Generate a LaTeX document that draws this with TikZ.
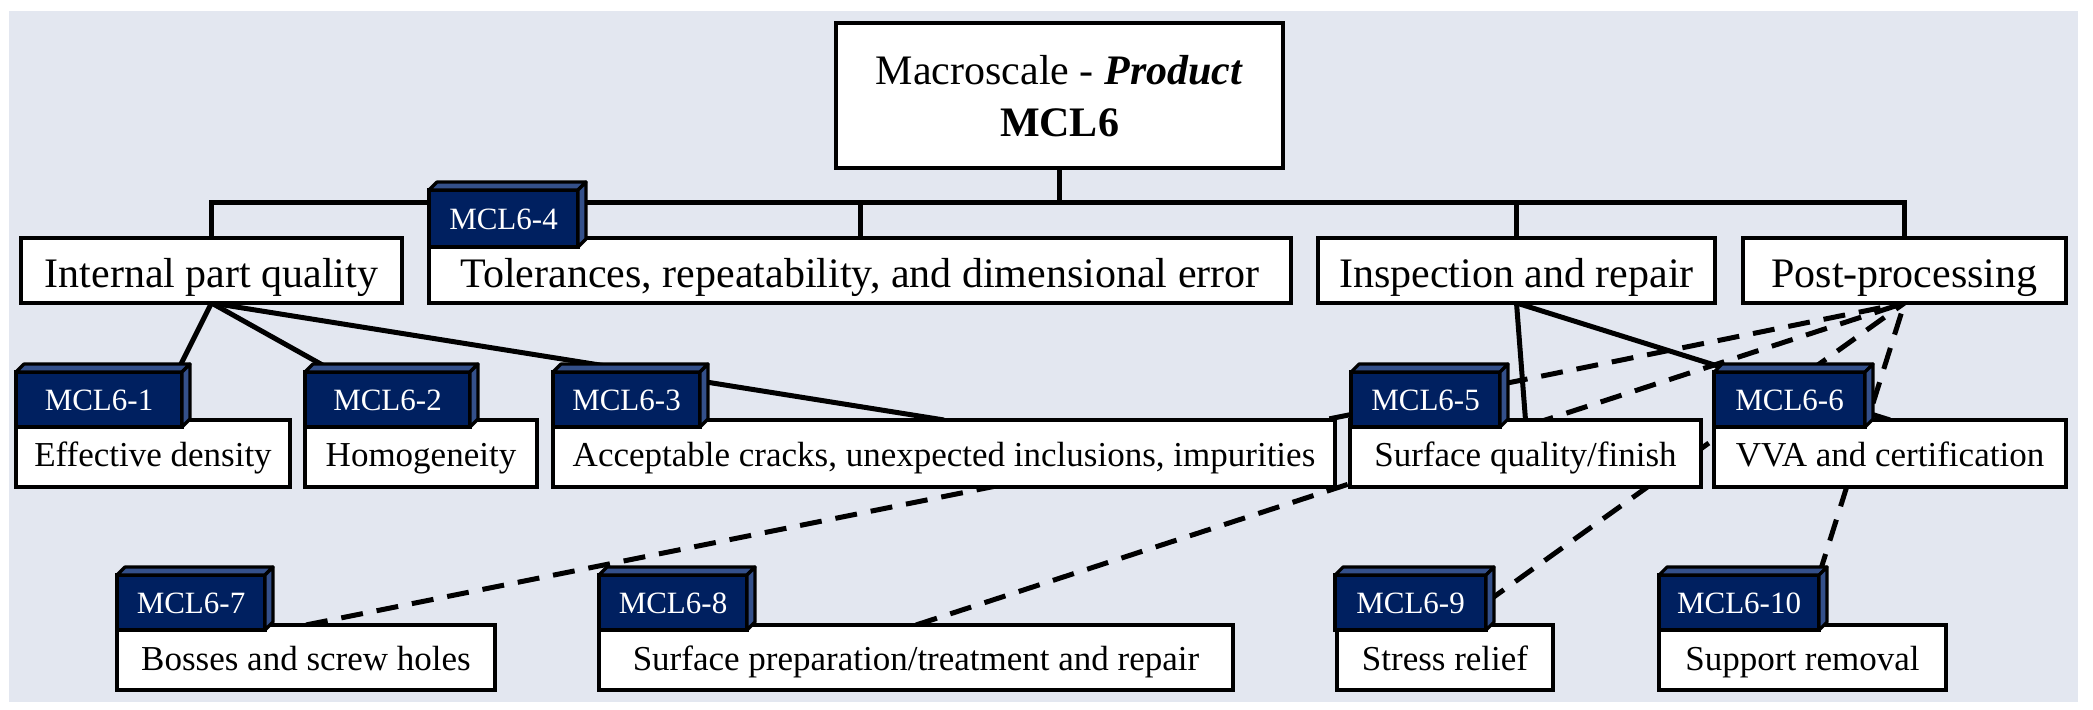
\documentclass[tikz,border=0pt]{standalone}
\usepackage{fontspec}
\setmainfont{Liberation Serif}
\usetikzlibrary{fit,calc}
\pgfdeclarelayer{panel}
\pgfdeclarelayer{links}
\pgfsetlayers{panel,links,main}
\definecolor{panelgray}{RGB}{227,231,240}
\definecolor{tagnavy}{RGB}{0,32,96}
\definecolor{facecol}{RGB}{52,80,138}

\tikzset{
  box/.style={draw=black, fill=white, line width=2.2pt, inner sep=0pt, outer sep=0pt},
  tagbox/.style={draw=black, fill=tagnavy, line width=1.6pt, inner sep=0pt, outer sep=0pt},
  tagside/.style={draw=black, fill=facecol, line width=1.6pt, line join=round},
  % text set on its baseline
  headtext/.style={anchor=base, inner sep=0pt, font=\fontsize{21}{25}\selectfont},
  cattext/.style={anchor=base, inner sep=0pt, font=\fontsize{21}{25}\selectfont},
  itemtext/.style={anchor=base, inner sep=0pt, font=\fontsize{17.5}{21}\selectfont},
  tagtext/.style={anchor=base, inner sep=0pt, text=white, font=\fontsize{15.5}{18}\selectfont},
  link/.style={line width=2.5pt},
  dlink/.style={line width=2.5pt, dash pattern=on 11pt off 7pt},
}

% top and right faces that give a tag its raised look
\newcommand\drawtagfaces[1]{%
  \draw[tagside] (#1.north west) -- ++(8,-8) -- ($(#1.north east)+(8,-8)$) -- (#1.north east) -- cycle;
  \draw[tagside] (#1.north east) -- ++(8,-8) -- ($(#1.south east)+(8,-8)$) -- (#1.south east) -- cycle;
}

\begin{document}
\begin{tikzpicture}[x=0.5pt, y=-0.5pt]
\useasboundingbox (0,0) rectangle (2093,710);
\begin{pgfonlayer}{panel}
  \fill[white] (0,0) rectangle (2093,710);
  \fill[panelgray] (9,11) rectangle (2078,702);
\end{pgfonlayer}

% root
\node[box, fit={(836,23)(1283,168)}] (top) {};
\node[headtext] (topA) at ($(top.center)+(0,-10.5)$) {Macroscale - \textbf{\textit{Product}}};
\node[headtext] (topB) at ($(top.center)+(0,41.5)$) {\textbf{MCL6}};

% categories
\node[box, fit={(21,238)(402,303)}] (ipq) {};
\node[box, fit={(429,238)(1291,303)}] (tol) {};
\node[box, fit={(1318,238)(1715,303)}] (insp) {};
\node[box, fit={(1743,238)(2066,303)}] (pp) {};
\node[cattext] (ipqT) at ($(ipq.center)+(0,17.5)$) {Internal part quality};
\node[cattext] (tolT) at ($(tol.center)+(0,17.5)$) {Tolerances, repeatability, and dimensional error};
\node[cattext] (inspT) at ($(insp.center)+(0,17.5)$) {Inspection and repair};
\node[cattext] (ppT) at ($(pp.center)+(0,17.5)$) {Post-processing};

% items, upper row
\node[box, fit={(16,420)(290,487)}] (eff) {};
\node[box, fit={(305,420)(537,487)}] (hom) {};
\node[box, fit={(553,420)(1335,487)}] (acc) {};
\node[box, fit={(1350,420)(1701,487)}] (sqf) {};
\node[box, fit={(1714,420)(2066,487)}] (vva) {};
\node[itemtext] (effT) at ($(eff.center)+(0,13.5)$) {Effective density};
\node[itemtext] (homT) at ($(hom.center)+(0,13.5)$) {Homogeneity};
\node[itemtext] (accT) at ($(acc.center)+(0,13.5)$) {Acceptable cracks, unexpected inclusions, impurities};
\node[itemtext] (sqfT) at ($(sqf.center)+(0,13.5)$) {Surface quality/finish};
\node[itemtext] (vvaT) at ($(vva.center)+(0,13.5)$) {VVA and certification};

% items, lower row
\node[box, fit={(117,625)(495,690)}] (bos) {};
\node[box, fit={(599,625)(1233,690)}] (spt) {};
\node[box, fit={(1337,625)(1553,690)}] (str) {};
\node[box, fit={(1659,625)(1946,690)}] (sup) {};
\node[itemtext] (bosT) at ($(bos.center)+(0,13)$) {Bosses and screw holes};
\node[itemtext] (sptT) at ($(spt.center)+(0,13)$) {Surface preparation/treatment and repair};
\node[itemtext] (strT) at ($(str.center)+(0,13)$) {Stress relief};
\node[itemtext] (supT) at ($(sup.center)+(0,13)$) {Support removal};

% tags
\node[tagbox, fit={(16,372)(182,427)}] (t1) {};
\node[tagbox, fit={(305,372)(470,427)}] (t2) {};
\node[tagbox, fit={(553,372)(700,427)}] (t3) {};
\node[tagbox, fit={(429,190)(578,247)}] (t4) {};
\node[tagbox, fit={(1351,372)(1500,427)}] (t5) {};
\node[tagbox, fit={(1714,372)(1865,427)}] (t6) {};
\node[tagbox, fit={(117,575)(265,630)}] (t7) {};
\node[tagbox, fit={(599,575)(747,630)}] (t8) {};
\node[tagbox, fit={(1335,575)(1486,630)}] (t9) {};
\node[tagbox, fit={(1659,575)(1819,630)}] (t10) {};
\foreach \t in {t1,t2,t3,t4,t5,t6,t7,t8,t9,t10} {\drawtagfaces{\t}}
\foreach \t/\n in {t1/1,t2/2,t3/3,t4/4,t5/5,t6/6,t7/7,t8/8,t9/9,t10/10}
  {\node[tagtext] (\t T) at ($(\t.center)+(0,11)$) {MCL6-\n};}

\begin{pgfonlayer}{links}
  % tree from the root to the categories
  \coordinate (bus) at (0,203);
  \draw[link] (top.south) -- (top.south |- bus);
  \draw[link] (ipq.north) |- (bus -| pp.north) -- (pp.north);
  \draw[link] (tol.north) -- (tol.north |- bus);
  \draw[link] (insp.north) -- (insp.north |- bus);
  % solid links to items
  \draw[link] (ipq.south) -- ($(t1.north east)+(-5,0)$);
  \draw[link] (ipq.south) -- ($(t2.north west)+(30,0)$);
  \draw[link] (ipq.south) -- (acc.north);
  \draw[link] (insp.south) -- (sqf.north);
  \draw[link] (insp.south) -- (vva.north);
  % dashed links to post-processing
  \draw[dlink] (bos.north) -- (pp.south);
  \draw[dlink] (spt.north) -- (pp.south);
  \draw[dlink] (t9.east) -- (pp.south);
  \draw[dlink] (t10.north east) -- (pp.south);
\end{pgfonlayer}
\end{tikzpicture}
\end{document}
